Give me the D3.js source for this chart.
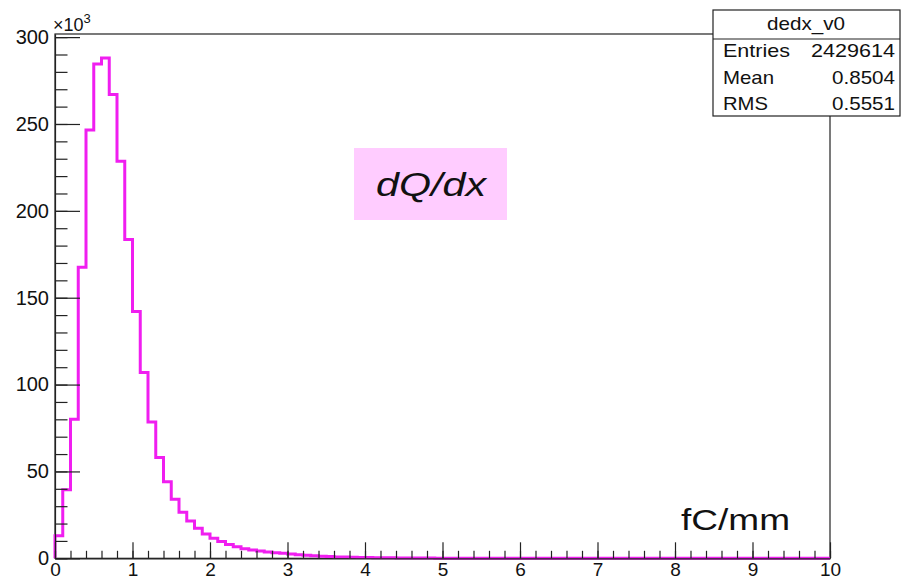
<!DOCTYPE html>
<html>
<head>
<meta charset="utf-8">
<script src="https://cdn.jsdelivr.net/npm/d3@7"></script>
<style>
    body { margin: 0; background: #fff; }
    svg text { font-family: "Liberation Sans", Arial, sans-serif; fill: #111; }
</style>
</head>
<body>
<svg id="chart" width="901" height="582"></svg>
<script>
// Histogram dedx_v0: 100 bins from 0 to 10 fC/mm, counts in thousands
const binEdges = [0, 10];
const binWidth = 0.1;
const counts = [
    13, 39.5, 80, 167.5, 246.5, 284.5, 288, 267, 228.5, 183.5,
    142, 107, 78.5, 58, 44, 34, 26.5, 21.5, 17.3, 14,
    11.5, 9.6, 8, 6.7, 5.5, 4.8, 4.2, 3.6, 3.2, 2.9,
    2.5, 2.1, 1.8, 1.5, 1.2, 1.0, 0.8, 0.7, 0.6, 0.5,
    0.4, 0.35, 0.3, 0.25, 0.2, 0.18, 0.15, 0.13, 0.11, 0.1,
    0.09, 0.08, 0.07, 0.06, 0.05, 0.05, 0.04, 0.04, 0.03, 0.03,
    0.03, 0.02, 0.02, 0.02, 0.02, 0.01, 0.01, 0.01, 0.01, 0.01,
    0.01, 0.01, 0.01, 0.01, 0, 0, 0, 0, 0, 0,
    0, 0, 0, 0, 0, 0, 0, 0, 0, 0,
    0, 0, 0, 0, 0, 0, 0, 0, 0, 0
];
const yMax = 301.8;
const xTicks = [0, 1, 2, 3, 4, 5, 6, 7, 8, 9, 10];
const yTicks = [0, 50, 100, 150, 200, 250, 300];
const statsTitle = "dedx_v0";
const statsNames = ["Entries", "Mean", "RMS"];
const statsValues = ["2429614", "0.8504", "0.5551"];
const plotLabel = "dQ/dx";
const unitLabel = "fC/mm";

let svg = d3.select("#chart");

let x = d3.scaleLinear().domain(binEdges).range([55, 830]);
let y = d3.scaleLinear().domain([0, yMax]).range([558.3, 34]);

// Frame
svg.append("rect")
    .attr("x", x(0)).attr("y", y(yMax))
    .attr("width", x(10) - x(0)).attr("height", y(0) - y(yMax))
    .attr("fill", "none").attr("stroke", "#222").attr("stroke-width", 1.2);

// Histogram outline
let pts = [[x(0), y(0)]];
counts.forEach(function (c, i) {
    let x0 = binEdges[0] + i * binWidth;
    pts.push([x(x0), y(c)]);
    pts.push([x(x0 + binWidth), y(c)]);
});
svg.append("path")
    .attr("d", d3.line()(pts))
    .attr("fill", "none")
    .attr("stroke", "#f01ef0")
    .attr("stroke-width", 3)
    .attr("stroke-linejoin", "miter");

// Y axis: minor then major ticks
let yMinor = d3.range(0, 301, 10);
svg.append("g")
    .attr("transform", "translate(" + x(0) + ",0)")
    .call(d3.axisLeft(y).tickValues(yMinor).tickSizeInner(-12.5).tickSizeOuter(0).tickFormat(""))
    .call(g => g.select(".domain").remove());
let yAxis = svg.append("g")
    .attr("transform", "translate(" + x(0) + ",0)")
    .call(d3.axisLeft(y).tickValues(yTicks).tickSizeInner(-25).tickSizeOuter(0).tickPadding(6));
yAxis.selectAll("text").style("font-size", "20px");

// X axis
let xMinor = d3.range(0, 10.01, 0.2);
svg.append("g")
    .attr("transform", "translate(0," + y(0) + ")")
    .call(d3.axisBottom(x).tickValues(xMinor).tickSizeInner(-7.5).tickSizeOuter(0).tickFormat(""))
    .call(g => g.select(".domain").remove());
let xAxis = svg.append("g")
    .attr("transform", "translate(0," + y(0) + ")")
    .call(d3.axisBottom(x).tickValues(xTicks).tickSizeInner(-16).tickSizeOuter(0).tickPadding(4));
xAxis.selectAll("text").style("font-size", "19px");

svg.selectAll(".tick line").attr("stroke", "#222").attr("stroke-width", 1.2);
svg.selectAll(".domain").attr("stroke", "#222").attr("stroke-width", 1.2);

// x10^3 exponent label
let exp = svg.append("text").attr("x", 53).attr("y", 31).style("font-size", "18px");
exp.append("tspan").text("\u00d710");
exp.append("tspan").attr("dy", -8).style("font-size", "13px").text("3");

// Stats box
const nameWidths = [67, 51, 45];
const valueWidths = [84, 63, 63];
let sb = svg.append("g");
sb.append("rect")
    .attr("x", 713).attr("y", 10).attr("width", 187).attr("height", 106)
    .attr("fill", "#fff").attr("stroke", "#222").attr("stroke-width", 1.2);
sb.append("line")
    .attr("x1", 713).attr("x2", 900).attr("y1", 39).attr("y2", 39)
    .attr("stroke", "#222").attr("stroke-width", 1.2);
sb.append("text")
    .attr("x", 767).attr("y", 30)
    .attr("textLength", 78).attr("lengthAdjust", "spacingAndGlyphs")
    .style("font-size", "19px").text(statsTitle);
statsNames.forEach(function (name, i) {
    let yy = 57 + i * 26.5;
    sb.append("text").attr("x", 723).attr("y", yy)
        .attr("textLength", nameWidths[i]).attr("lengthAdjust", "spacingAndGlyphs")
        .style("font-size", "19px").text(name);
    sb.append("text").attr("x", 895 - valueWidths[i]).attr("y", yy)
        .attr("textLength", valueWidths[i]).attr("lengthAdjust", "spacingAndGlyphs")
        .style("font-size", "19px").text(statsValues[i]);
});

// dQ/dx label
svg.append("rect")
    .attr("x", 354).attr("y", 148).attr("width", 153).attr("height", 72)
    .attr("fill", "#ffccff");
svg.append("text")
    .attr("x", 376).attr("y", 196)
    .attr("textLength", 110).attr("lengthAdjust", "spacingAndGlyphs")
    .style("font-size", "33px").style("font-style", "italic")
    .text(plotLabel);

// unit label
svg.append("text")
    .attr("x", 681).attr("y", 530)
    .attr("textLength", 109).attr("lengthAdjust", "spacingAndGlyphs")
    .style("font-size", "30px")
    .text(unitLabel);
</script>
</body>
</html>
